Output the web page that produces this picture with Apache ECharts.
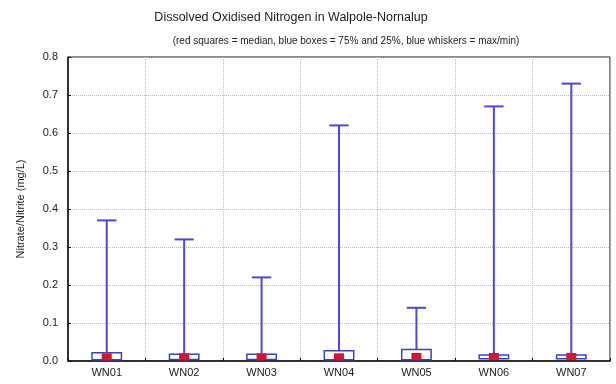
<!DOCTYPE html>
<html>
<head>
<meta charset="utf-8">
<script src="https://cdn.jsdelivr.net/npm/echarts@6/dist/echarts.min.js"></script>
<style>html,body{margin:0;padding:0;background:#fff}#c{width:616px;height:384px}</style>
</head>
<body>
<div id="c"></div>
<script>
const categories = ['WN01','WN02','WN03','WN04','WN05','WN06','WN07'];
const minVals    = [0.001,0.001,0.001,0.001,0.001,0.002,0.002];
const q1Vals     = [0.003,0.004,0.004,0.003,0.003,0.006,0.006];
const medianVals = [0.011,0.011,0.011,0.011,0.012,0.012,0.012];
const q3Vals     = [0.022,0.018,0.018,0.027,0.030,0.016,0.016];
const maxVals    = [0.37,0.32,0.22,0.62,0.14,0.67,0.73];
const yTicks = [0,0.1,0.2,0.3,0.4,0.5,0.6,0.7,0.8];

const rows = categories.map((c,i)=>[i,minVals[i],q1Vals[i],medianVals[i],q3Vals[i],maxVals[i]]);
const font = 'Liberation Sans, Arial, sans-serif';

const chart = echarts.init(document.getElementById('c'), null, {renderer:'canvas'});
chart.setOption({
  animation:false,
  backgroundColor:'#fff',
  title:[
    {text:'Dissolved Oxidised Nitrogen in Walpole-Nornalup', left:286, top:6, textAlign:'center',
     textStyle:{fontFamily:font,fontSize:12.5,fontWeight:'normal',color:'#222'}},
    {text:'(red squares = median, blue boxes = 75% and 25%, blue whiskers = max/min)', left:341, top:31, textAlign:'center',
     textStyle:{fontFamily:font,fontSize:10,fontWeight:'normal',color:'#222'}}
  ],
  grid:{left:68,right:6,top:57,bottom:23,show:true,borderColor:'#111',borderWidth:1,backgroundColor:'transparent'},
  xAxis:{
    type:'category', data:categories, boundaryGap:true,
    axisLine:{lineStyle:{color:'#111',width:1.5}},
    axisTick:{show:true,inside:true,length:3,lineStyle:{color:'#111'}},
    axisLabel:{fontFamily:font,fontSize:11,color:'#222',margin:6},
    splitLine:{show:true,lineStyle:{type:'dotted',color:'#bbb'}}
  },
  yAxis:{
    type:'value', min:0, max:0.8, interval:0.1,
    name:'Nitrate/Nitrite (mg/L)', nameLocation:'middle', nameGap:42,
    nameTextStyle:{fontFamily:font,fontSize:11,color:'#222'},
    axisLine:{show:true,lineStyle:{color:'#111',width:1.5}},
    axisTick:{show:true,inside:true,length:3,lineStyle:{color:'#111'}},
    axisLabel:{fontFamily:font,fontSize:11,color:'#222',margin:10,formatter:v=>v.toFixed(1)},
    splitLine:{show:true,lineStyle:{type:'dotted',color:'#bbb'}}
  },
  series:[{
    type:'custom',
    data:rows,
    encode:{x:0,y:[1,2,3,4,5]},
    renderItem:function(params, api){
      const idx = api.value(0);
      const x = api.coord([idx,0])[0];
      const band = api.size([1,0])[0];
      const yMin = api.coord([idx,api.value(1)])[1];
      const yQ1 = api.coord([idx,api.value(2)])[1];
      const yMed = api.coord([idx,api.value(3)])[1];
      const yQ3 = api.coord([idx,api.value(4)])[1];
      const yMax = api.coord([idx,api.value(5)])[1];
      const bw = band*0.38, cw = band*0.25;
      const wc = '#5046e8', bc = '#3546c0';
      return {type:'group',children:[
        {type:'line',shape:{x1:x,y1:yMax,x2:x,y2:yQ3},style:{stroke:wc,lineWidth:2}},
        {type:'line',shape:{x1:x,y1:yQ1,x2:x,y2:yMin},style:{stroke:wc,lineWidth:2}},
        {type:'line',shape:{x1:x-cw/2,y1:yMax,x2:x+cw/2,y2:yMax},style:{stroke:wc,lineWidth:2}},
        {type:'rect',shape:{x:x-bw/2,y:yQ3,width:bw,height:yQ1-yQ3},style:{stroke:bc,fill:'#fff',lineWidth:1.5}},
        {type:'rect',shape:{x:x-5,y:yMed-3.5,width:10,height:7},style:{fill:'#e0102a'}}
      ]};
    }
  }]
});
</script>
</body>
</html>
